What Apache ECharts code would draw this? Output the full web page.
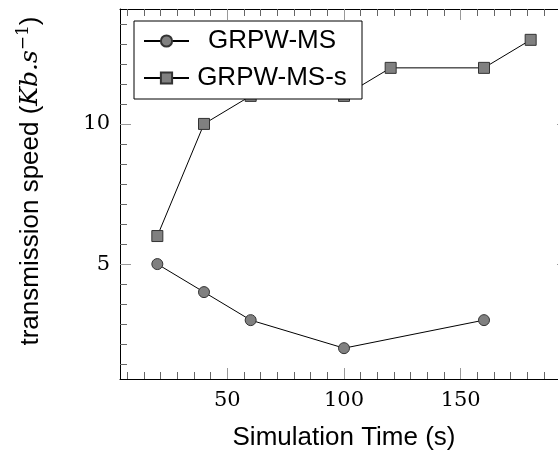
<!DOCTYPE html>
<html>
<head>
<meta charset="utf-8">
<script src="https://cdn.jsdelivr.net/npm/echarts@6/dist/echarts.min.js"></script>
<style>
html, body { margin: 0; padding: 0; background: #fff; }
#chart { width: 558px; height: 453px; }
</style>
</head>
<body>
<div id="chart"></div>
<script>
// data
var msX = [20, 40, 60, 100, 160]
var msY = [5, 4, 3, 2, 3]
var mssX = [20, 40, 60, 100, 120, 160, 180]
var mssY = [6, 10, 11, 11, 12, 12, 13]
var xTicks = [50, 100, 150]
var yTicks = [5, 10]

var xMin = 4, xMax = 196
var yMin = 0.9, yMax = 14.1

// minor ticks: 6 between majors
function minors (ticks, lo, hi) {
  var step = (ticks[1] - ticks[0]) / 7
  var out = []
  for (var v = ticks[0] - step * 20; v <= hi; v += step) {
    if (v >= lo && ticks.indexOf(Math.round(v * 1000) / 1000) < 0) out.push(v)
  }
  return out
}
var xMinor = minors(xTicks, xMin, xMax)
var yMinor = minors(yTicks, yMin, yMax)

function pairs (xs, ys) {
  return xs.map(function (x, i) { return [x, ys[i]] })
}

var labelFont = { fontFamily: 'DejaVu Serif', fontSize: 21, color: '#000' }

function xAx (pos, ticks, len, col, label, line) {
  return {
    type: 'value', min: xMin, max: xMax, position: pos,
    axisLine: { show: line, onZero: false, lineStyle: { color: '#000', width: 1 } },
    axisTick: { show: true, inside: true, length: len, customValues: ticks, lineStyle: { color: col, width: 1 } },
    axisLabel: label ? Object.assign({ customValues: ticks, margin: 11 }, labelFont) : { show: false },
    splitLine: { show: false }
  }
}
function yAx (pos, ticks, len, col, label, line) {
  return {
    type: 'value', min: yMin, max: yMax, position: pos,
    axisLine: { show: line, onZero: false, lineStyle: { color: '#000', width: 1 } },
    axisTick: { show: true, inside: true, length: len, customValues: ticks, lineStyle: { color: col, width: 1 } },
    axisLabel: label ? Object.assign({ customValues: ticks, margin: 10 }, labelFont) : { show: false },
    splitLine: { show: false }
  }
}

var xAxes = [
  xAx('bottom', xTicks, 11, '#999', true, true),
  xAx('bottom', xMinor, 7, '#666', false, false),
  xAx('top', xTicks, 11, '#999', false, true),
  xAx('top', xMinor, 7, '#666', false, false)
]
xAxes[0].name = 'Simulation Time (s)'
xAxes[0].nameLocation = 'middle'
xAxes[0].nameGap = 46
xAxes[0].nameMoveOverlap = false
xAxes[0].nameTextStyle = { fontFamily: 'Liberation Sans', fontSize: 26, color: '#000', verticalAlign: 'top' }

var yAxes = [
  yAx('left', yTicks, 11, '#999', true, true),
  yAx('left', yMinor, 7, '#666', false, false),
  yAx('right', yTicks, 11, '#999', false, true),
  yAx('right', yMinor, 7, '#666', false, false)
]
yAxes[0].name = '{t|transmission speed (}{m|Kb.s}{s|−1}{t|)}'
yAxes[0].nameLocation = 'middle'
yAxes[0].nameGap = 74
yAxes[0].nameMoveOverlap = false
yAxes[0].nameTextStyle = {
  padding: [0, 0, 0, 26],
  rich: {
    t: { fontFamily: 'Liberation Sans', fontSize: 26, color: '#000' },
    m: { fontFamily: 'DejaVu Serif', fontStyle: 'italic', fontSize: 25, color: '#000' },
    s: { fontFamily: 'DejaVu Serif', fontSize: 17, color: '#000', verticalAlign: 'top', padding: [0, 0, 14, 0] }
  }
}

var markStyle = { color: '#808080', borderColor: '#333', borderWidth: 1 }

var chart = echarts.init(document.getElementById('chart'))
chart.setOption({
  animation: false,
  grid: { left: 120, top: 9, width: 448, height: 370, outerBoundsMode: 'none' },
  xAxis: xAxes,
  yAxis: yAxes,
  legend: {
    orient: 'vertical', left: 134, top: 21,
    itemWidth: 45, itemHeight: 14, itemGap: 3,
    padding: [3, 12, 4, 9],
    backgroundColor: '#fff', borderColor: '#000', borderWidth: 1,
    formatter: '{a|{name}}',
    textStyle: {
      fontFamily: 'Liberation Sans', fontSize: 26, color: '#000',
      width: 156, height: 34, lineHeight: 34,
      rich: { a: { fontFamily: 'Liberation Sans', fontSize: 26, width: 156, align: 'center', height: 34, lineHeight: 34 } }
    },
    data: ['GRPW-MS', 'GRPW-MS-s']
  },
  series: [
    {
      name: 'GRPW-MS', type: 'line', data: pairs(msX, msY),
      symbol: 'circle', symbolSize: 11,
      lineStyle: { color: '#000', width: 1 }, itemStyle: markStyle
    },
    {
      name: 'GRPW-MS-s', type: 'line', data: pairs(mssX, mssY),
      symbol: 'rect', symbolSize: 11,
      lineStyle: { color: '#000', width: 1 }, itemStyle: markStyle
    }
  ]
})
</script>
</body>
</html>
